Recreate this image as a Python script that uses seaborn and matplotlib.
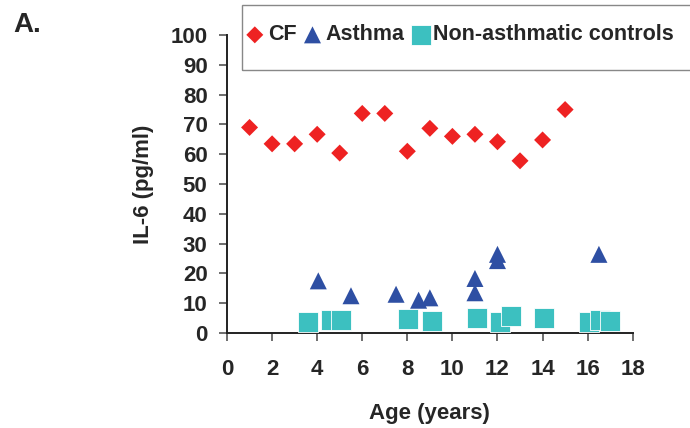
import matplotlib
matplotlib.use("Agg")
import matplotlib.pyplot as plt
from matplotlib.patches import Rectangle
import seaborn as sns
import pandas as pd

# ---- data ----
cf_age = [1, 2, 3, 4, 5, 6, 7, 8, 9, 10, 11, 12, 13, 14, 15]
cf_il6 = [69.0, 63.5, 63.5, 66.7, 60.4, 73.7, 73.7, 61.0, 68.7, 66.0, 66.7, 64.2, 57.8, 64.8, 75.0]

asthma_age = [4.05, 5.5, 7.5, 8.5, 9.0, 11.0, 11.0, 12.0, 12.0, 16.5]
asthma_il6 = [17.5, 12.5, 13.0, 11.0, 11.8, 18.3, 13.5, 26.4, 24.3, 26.4]

ctrl_age = [3.6, 4.6, 5.05, 8.05, 9.1, 11.1, 12.1, 12.6, 14.05, 16.05, 16.55, 17.0]
ctrl_il6 = [3.8, 4.3, 4.3, 4.7, 4.1, 5.0, 3.8, 5.7, 5.0, 3.8, 4.3, 4.1]

labels = ["CF", "Asthma", "Non-asthmatic controls"]
x_ticks = list(range(0, 19, 2))
y_ticks = list(range(0, 101, 10))

cf = pd.DataFrame({"age": cf_age, "il6": cf_il6})
asthma = pd.DataFrame({"age": asthma_age, "il6": asthma_il6})
ctrl = pd.DataFrame({"age": ctrl_age, "il6": ctrl_il6})

sns.set_style("white")
plt.rcParams["font.family"] = ["Liberation Sans", "DejaVu Sans"]
plt.rcParams["font.weight"] = "bold"

fig = plt.figure(figsize=(6.9, 4.28), dpi=100)
ax = fig.add_axes([0.329, 0.222, 0.588, 0.696])

sns.scatterplot(data=ctrl, x="age", y="il6", ax=ax, marker="s", s=200,
                color="#3CC0C0", edgecolor="white", linewidth=0.6,
                label=labels[2], clip_on=False, zorder=3)
sns.scatterplot(data=asthma, x="age", y="il6", ax=ax, marker="^", s=150,
                color="#2E4FA3", edgecolor="none", linewidth=0,
                label=labels[1], clip_on=False, zorder=4)
sns.scatterplot(data=cf, x="age", y="il6", ax=ax, marker="D", s=75,
                color="#EE2222", edgecolor="none", linewidth=0,
                label=labels[0], clip_on=False, zorder=5)

ax.set_xlim(0, 18)
ax.set_ylim(0, 100)
ax.set_xticks(x_ticks)
ax.set_yticks(y_ticks)
ax.set_xticklabels([str(t) for t in x_ticks], fontsize=16, fontweight="bold")
ax.set_yticklabels([str(t) for t in y_ticks], fontsize=16, fontweight="bold")
ax.tick_params(axis="y", direction="out", length=6, width=1.2, color="#555555",
               pad=8, left=True)
ax.tick_params(axis="x", direction="out", length=6, width=1.2, color="#555555",
               pad=13, bottom=True)

for side in ["top", "right"]:
    ax.spines[side].set_visible(False)
for side in ["left", "bottom"]:
    ax.spines[side].set_color("#222222")
    ax.spines[side].set_linewidth(1.4)

ax.set_xlabel("Age (years)", fontsize=16, fontweight="bold", labelpad=16)
ax.set_ylabel("IL-6 (pg/ml)", fontsize=16, fontweight="bold", labelpad=12)

h, l = ax.get_legend_handles_labels()
if ax.get_legend() is not None:
    ax.get_legend().remove()
order = [l.index(x) for x in labels]
leg = fig.legend([h[i] for i in order], [l[i] for i in order],
                 loc="center left", bbox_to_anchor=(0.349, 1 - 35 / 428),
                 ncol=3, frameon=False, fontsize=15.5,
                 handletextpad=0.15, columnspacing=0.3, handlelength=0.9,
                 borderpad=0.2, borderaxespad=0.0)
for t in leg.get_texts():
    t.set_fontweight("bold")

# legend box (extends past the right edge as in the reference)
fig.patches.append(Rectangle((242 / 690, 1 - 70 / 428), 1.0, 65 / 428,
                             transform=fig.transFigure, fill=False,
                             edgecolor="#888888", linewidth=1.0))

fig.text(0.019, 0.925, "A.", fontsize=20, fontweight="bold", ha="left", va="baseline")

fig.savefig("out.png", dpi=100)
